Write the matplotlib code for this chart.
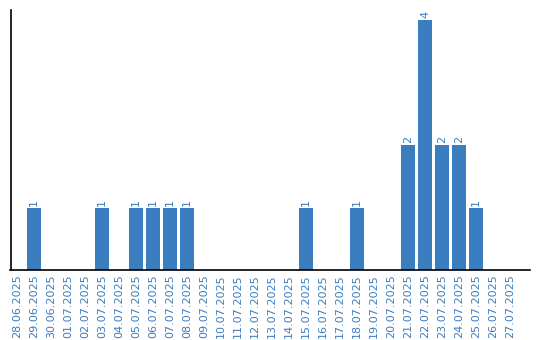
import matplotlib
matplotlib.use("Agg")
import matplotlib.pyplot as plt
import numpy as np

# data
dates = ['28.06.2025', '29.06.2025', '30.06.2025', '01.07.2025', '02.07.2025',
         '03.07.2025', '04.07.2025', '05.07.2025', '06.07.2025', '07.07.2025',
         '08.07.2025', '09.07.2025', '10.07.2025', '11.07.2025', '12.07.2025',
         '13.07.2025', '14.07.2025', '15.07.2025', '16.07.2025', '17.07.2025',
         '18.07.2025', '19.07.2025', '20.07.2025', '21.07.2025', '22.07.2025',
         '23.07.2025', '24.07.2025', '25.07.2025', '26.07.2025', '27.07.2025']
counts = [0, 1, 0, 0, 0, 1, 0, 1, 1, 1,
          1, 0, 0, 0, 0, 0, 0, 1, 0, 0,
          1, 0, 0, 2, 4, 2, 2, 1, 0, 0]

bar_color = '#3a7dc1'

fig = plt.figure(figsize=(5.4, 3.4), dpi=100)
ax = fig.add_axes([10.5/540, 70/340, 519.5/540, 260/340])

x = np.arange(len(dates))
bars = ax.bar(x, counts, width=0.82, color=bar_color, edgecolor='none')

for xi, c in zip(x, counts):
    if c > 0:
        ax.text(xi, c + 0.03, str(c), rotation=90, ha='center', va='bottom',
                fontsize=8, color=bar_color)

ax.set_xlim(-0.38, 30.18)
ax.set_ylim(0, 4.16)
ax.set_xticks(x)
ax.set_xticklabels(dates, rotation=90, fontsize=8, color=bar_color)
ax.tick_params(axis='x', length=0, pad=3)
ax.set_yticks([])
for s in ['top', 'right']:
    ax.spines[s].set_visible(False)
ax.spines['left'].set_linewidth(1.2)
ax.spines['bottom'].set_linewidth(1.2)

fig.savefig('out.png', dpi=100)
